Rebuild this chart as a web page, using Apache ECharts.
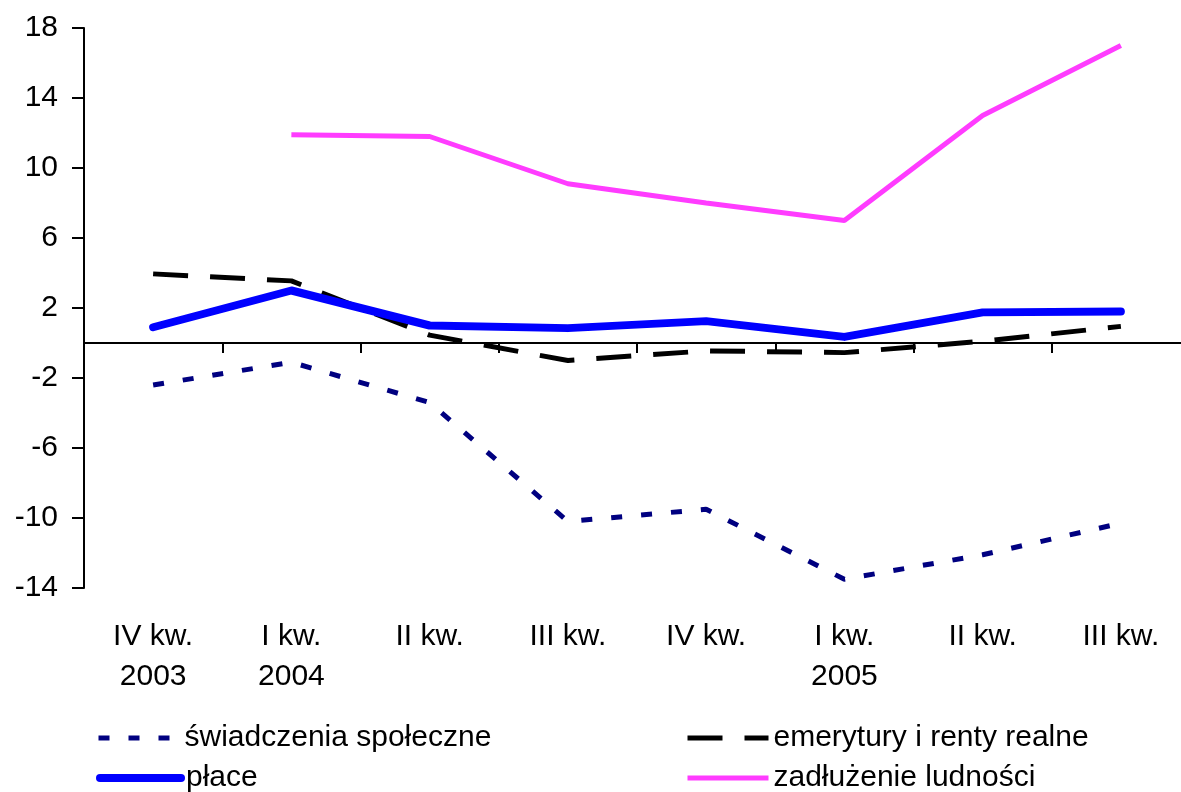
<!DOCTYPE html>
<html>
<head>
    <meta charset="utf-8">
    <script src="https://cdn.jsdelivr.net/npm/echarts@6/dist/echarts.min.js"></script>
    <style>
        html, body { margin: 0; padding: 0; background: #fff; overflow: hidden; }
    </style>
</head>
<body>
<!-- wykres jest nieco szerszy od okna, prawa krawędź osi jest ucięta jak w oryginale -->
<div id="main" style="width: 1190px;height:792px;"></div>
<script type="text/javascript">
    // kwartały
    var kwartaly = ['IV kw.\n2003', 'I kw.\n2004', 'II kw.', 'III kw.', 'IV kw.', 'I kw.\n2005', 'II kw.', 'III kw.'];

    // wartości serii
    var swiadczenia = [-2.4, -1.1, -3.4, -10.2, -9.5, -13.5, -12.1, -10.3];
    var emerytury = [3.95, 3.55, 0.45, -1.0, -0.45, -0.55, 0.1, 0.95];
    var place = [0.9, 3.0, 1.0, 0.85, 1.25, 0.35, 1.75, 1.8];
    var zadluzenie = [null, 11.9, 11.8, 9.1, 8.0, 7.0, 13.0, 17.0];

    var yMin = -14, yMax = 18, yStep = 4;

    var font = 'Liberation Sans, Arial, sans-serif';
    var fs = 30;

    // jedna legenda na pozycję, żeby ustawić dwie kolumny
    function legenda(nazwa, left, top, lineStyle) {
        return {
            left: left,
            top: top,
            padding: 0,
            itemWidth: 81,
            itemHeight: 14,
            itemStyle: { opacity: 0, borderWidth: 0 },
            lineStyle: lineStyle,
            textStyle: { fontSize: fs, color: '#000', fontFamily: font },
            data: [nazwa]
        };
    }

    var myChart = echarts.init(document.getElementById('main'));

    var option = {
        animation: false,
        backgroundColor: '#fff',
        textStyle: { fontFamily: font },
        grid: { left: 84, right: 0, top: 28, bottom: 204 },
        legend: [
            legenda('świadczenia społeczne', 96, 723, { width: 5, color: '#000080', type: [11, 19], cap: 'butt' }),
            legenda('płace', 96, 763, { width: 8, color: '#0000ff', type: 'solid', cap: 'round' }),
            legenda('emerytury i renty realne', 685, 723, { width: 5, color: '#000', type: [35, 22], cap: 'butt' }),
            legenda('zadłużenie ludności', 685, 763, { width: 5, color: '#ff3cff', type: 'solid' })
        ],
        xAxis: [
            {
                type: 'category',
                data: kwartaly,
                axisLine: { onZero: true, lineStyle: { color: '#000', width: 2 } },
                axisTick: { show: true, length: 10, lineStyle: { color: '#000', width: 2 } },
                axisLabel: { show: false },
                splitLine: { show: false }
            },
            {
                type: 'category',
                data: kwartaly,
                position: 'bottom',
                axisLine: { show: false, onZero: false },
                axisTick: { show: false },
                axisLabel: {
                    show: true,
                    margin: 29,
                    interval: 0,
                    fontSize: fs,
                    lineHeight: 40,
                    color: '#000',
                    fontFamily: font
                },
                splitLine: { show: false }
            }
        ],
        yAxis: {
            type: 'value',
            min: yMin,
            max: yMax,
            interval: yStep,
            axisLine: { show: true, lineStyle: { color: '#000', width: 2 } },
            axisTick: { show: true, length: 12, lineStyle: { color: '#000', width: 2 } },
            axisLabel: { margin: 26, fontSize: fs, color: '#000', fontFamily: font },
            splitLine: { show: false }
        },
        series: [
            {
                name: 'świadczenia społeczne',
                type: 'line',
                symbol: 'none',
                data: swiadczenia,
                lineStyle: { color: '#000080', width: 5, type: [11, 19], cap: 'butt' },
                itemStyle: { color: '#000080' }
            },
            {
                name: 'emerytury i renty realne',
                type: 'line',
                symbol: 'none',
                data: emerytury,
                lineStyle: { color: '#000', width: 5, type: [35, 22], cap: 'butt' },
                itemStyle: { color: '#000' }
            },
            {
                name: 'płace',
                type: 'line',
                symbol: 'none',
                data: place,
                lineStyle: { color: '#0000ff', width: 8, cap: 'round', join: 'round' },
                itemStyle: { color: '#0000ff' }
            },
            {
                name: 'zadłużenie ludności',
                type: 'line',
                symbol: 'none',
                data: zadluzenie,
                lineStyle: { color: '#ff3cff', width: 5 },
                itemStyle: { color: '#ff3cff' }
            }
        ]
    };

    myChart.setOption(option);
</script>
</body>
</html>
